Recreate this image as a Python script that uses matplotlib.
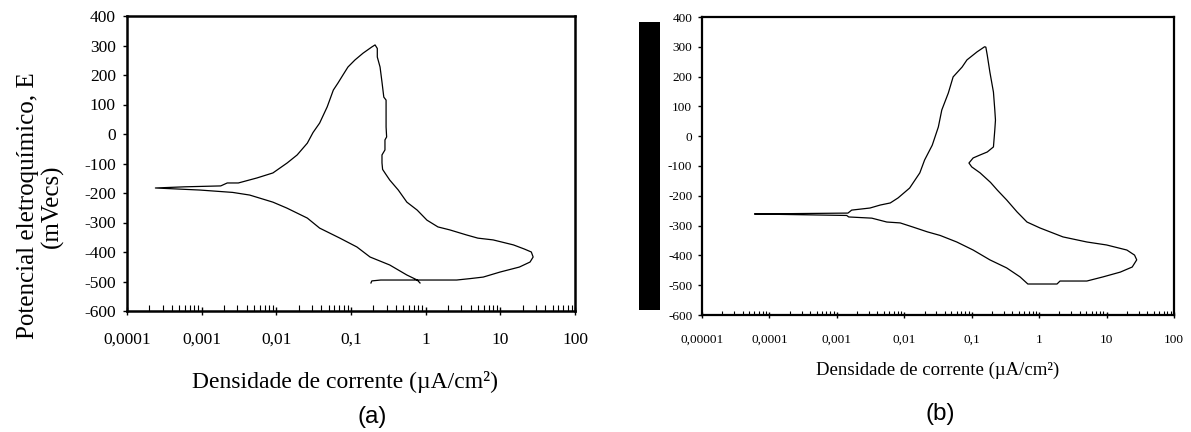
import matplotlib
matplotlib.use("Agg")
import matplotlib.pyplot as plt
from matplotlib.patches import Rectangle
from matplotlib.ticker import FixedLocator, LogLocator, NullFormatter, FixedFormatter

# ---------------- data ----------------
# Panel (a): current density (uA/cm2) and potential (mVecs)
curr_a = [0.185, 0.19, 0.25, 0.6, 1.2, 2.6, 4.0, 5.9, 9.9, 18, 25, 27.5, 26, 21, 15,
          8, 5, 3.5, 2.1, 1.46, 1.04, 0.77, 0.56, 0.43, 0.33, 0.29, 0.265, 0.26, 0.26,
          0.285, 0.285, 0.30, 0.295, 0.295, 0.275, 0.26, 0.245, 0.225, 0.225, 0.21,
          0.19, 0.145, 0.113, 0.091, 0.078, 0.067, 0.058, 0.048, 0.038, 0.031, 0.026,
          0.019, 0.014, 0.009, 0.0055, 0.0031, 0.0022, 0.0018, 0.0006, 0.00024,
          0.00095, 0.0026, 0.0044, 0.009, 0.0138, 0.026, 0.038, 0.071, 0.12, 0.18,
          0.33, 0.56, 0.77, 0.84]
pot_a = [-505, -498, -495, -495, -495, -495, -490, -485, -468, -451, -434, -417, -400,
         -390, -376, -359, -353, -342, -325, -315, -292, -258, -231, -190, -156, -135,
         -120, -98, -71, -54, -20, -10, 24, 115, 125, 176, 227, 261, 290, 302,
         295, 274, 251, 227, 200, 173, 149, 92, 37, 5, -31, -71, -98, -132, -149,
         -166, -166, -176, -179, -183,
         -190, -198, -207, -231, -251, -285, -319, -353, -383, -417,
         -444, -478, -495, -505]

# Panel (b)
curr_b = [6.1e-5, 0.0014, 0.0015, 0.0033, 0.0055, 0.0087, 0.0135, 0.022, 0.034, 0.06,
          0.105, 0.186, 0.33, 0.52, 0.68, 1.84, 2.04, 5.1, 8.9, 16, 24, 28, 26, 20, 10,
          5.1, 2.26, 1.03, 0.66, 0.47, 0.33, 0.24, 0.19, 0.133, 0.1, 0.091, 0.105,
          0.133, 0.17, 0.21, 0.22, 0.225, 0.22, 0.21, 0.186, 0.17, 0.162, 0.155,
          0.12, 0.085, 0.072, 0.053, 0.045, 0.036, 0.032, 0.026, 0.020, 0.017, 0.012,
          0.0081, 0.0062, 0.0044, 0.0031, 0.00166, 0.00146, 6.1e-5]
pot_b = [-261, -266, -271, -275, -288, -291, -305, -321, -333, -355,
         -382, -415, -442, -472, -496, -496, -486, -486, -472, -456, -439, -415, -399,
         -382, -365, -355, -338, -308, -288, -254, -214, -181, -155, -123, -103, -90,
         -73, -63, -53, -36, 21, 54, 88, 148, 215, 272, 299, 300,
         283, 256, 232, 199, 145, 88, 31, -30, -80, -123, -174,
         -207, -224, -231, -241, -248, -258, -261]

yticks = [-600, -500, -400, -300, -200, -100, 0, 100, 200, 300, 400]
xticks_a = [1e-4, 1e-3, 1e-2, 1e-1, 1, 10, 100]
xlabels_a = ["0,0001", "0,001", "0,01", "0,1", "1", "10", "100"]
xticks_b = [1e-5, 1e-4, 1e-3, 1e-2, 1e-1, 1, 10, 100]
xlabels_b = ["0,00001", "0,0001", "0,001", "0,01", "0,1", "1", "10", "100"]

xlabel_txt = "Densidade de corrente (\u00b5A/cm\u00b2)"
ylabel_txt = "Potencial eletroqu\u00edmico, E\n(mVecs)"

serif = ["Liberation Serif", "DejaVu Serif"]
sans = ["Liberation Sans", "DejaVu Sans"]

W, H = 1191, 432
fig = plt.figure(figsize=(W / 100, H / 100), dpi=100)


def px_axes(x0, y0, x1, y1):
    return fig.add_axes([x0 / W, 1 - y1 / H, (x1 - x0) / W, (y1 - y0) / H])


def style(ax, xt, xl, tick_fs, maj_len, min_len, ytick_len, xpad, ypad, lw):
    ax.set_xscale("log")
    ax.set_xlim(xt[0], xt[-1])
    ax.set_ylim(-600, 400)
    ax.xaxis.set_major_locator(FixedLocator(xt))
    ax.xaxis.set_major_formatter(FixedFormatter(xl))
    ax.xaxis.set_minor_locator(LogLocator(base=10, subs=range(2, 10), numticks=50))
    ax.xaxis.set_minor_formatter(NullFormatter())
    ax.yaxis.set_major_locator(FixedLocator(yticks))
    ax.set_yticklabels([str(v) for v in yticks])
    for s in ax.spines.values():
        s.set_linewidth(lw)
        s.set_color("black")
    ax.tick_params(axis="x", which="major", direction="inout", length=maj_len,
                   width=1.0, pad=xpad, labelsize=tick_fs, top=False)
    ax.tick_params(axis="x", which="minor", direction="in", length=min_len,
                   width=0.8, top=False)
    ax.tick_params(axis="y", which="major", direction="out", length=ytick_len,
                   width=1.0, pad=ypad, labelsize=tick_fs, right=False)
    for lab in ax.get_xticklabels() + ax.get_yticklabels():
        lab.set_fontfamily(serif)


# ---- panel (a)
ax_a = px_axes(127, 16, 575, 311)
ax_a.plot(curr_a, pot_a, color="black", lw=0.9)
style(ax_a, xticks_a, xlabels_a, 12.5, 6, 4, 3, 12, 5, 1.8)
fig.text(345 / W, 1 - 382 / H, xlabel_txt, ha="center", va="center",
         fontsize=17, family=serif)
fig.text(40 / W, 1 - 206 / H, ylabel_txt, ha="center", va="center",
         rotation=90, fontsize=18, family=serif, multialignment="center",
         linespacing=1.1)
fig.text(372 / W, 1 - 417 / H, "(a)", ha="center", va="center",
         fontsize=17.5, family=sans)

# ---- panel (b)
ax_b = px_axes(702, 17, 1174, 315)
ax_b.plot(curr_b, pot_b, color="black", lw=0.9)
style(ax_b, xticks_b, xlabels_b, 9.5, 5, 3, 3, 11, 4, 1.6)
fig.text(938 / W, 1 - 370 / H, xlabel_txt, ha="center", va="center",
         fontsize=13.5, family=serif)
fig.text(940 / W, 1 - 414 / H, "(b)", ha="center", va="center",
         fontsize=17.5, family=sans)

# redaction block left of panel (b)
fig.patches.append(Rectangle((639 / W, 1 - 310 / H), 21 / W, 288 / H,
                             transform=fig.transFigure, facecolor="black",
                             edgecolor="none"))

fig.savefig("out.png", dpi=100)
